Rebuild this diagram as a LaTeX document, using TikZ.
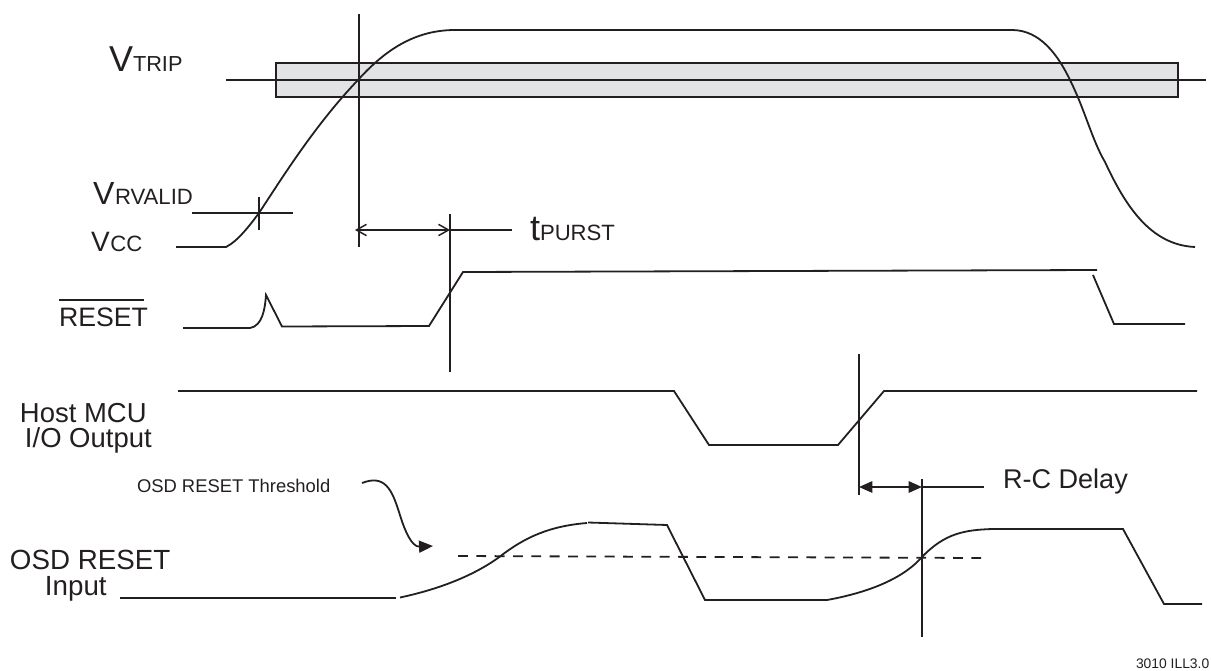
\documentclass[tikz,border=0pt]{standalone}
\usepackage{fontspec}
\setmainfont{Liberation Sans}
\usetikzlibrary{arrows.meta}
\definecolor{ink}{RGB}{35,31,32}
\definecolor{band}{RGB}{225,227,228}
\newcommand{\fs}[1]{\fontsize{#1}{#1}\selectfont}
\tikzset{
  wave/.style={draw=ink,line width=1.35pt},
  lab/.style={inner sep=0pt,outer sep=0pt,text=ink,anchor=base west},
  openarrow/.style={{Straight Barb[length=7.5pt,width=8.5pt,line width=1.1pt]}-{Straight Barb[length=7.5pt,width=8.5pt,line width=1.1pt]}},
  fillarrow/.style={{Triangle[length=10pt,width=8.5pt,fill=ink]}-{Triangle[length=10pt,width=8.5pt,fill=ink]}}
}
\begin{document}
\begin{tikzpicture}[x=0.75pt,y=-0.75pt]
\useasboundingbox (0,0) rectangle (1211,671);
% band
\draw[fill=band,draw=ink,line width=1.35pt] (276,63) rectangle (1178,97);
% trip line
\coordinate (tl) at (226,80); \coordinate (tr) at (1206,80);
\draw[wave] (tl) -- (tr);
% Vcc curve
\draw[wave] (176,247) -- (226,247)
  .. controls (238,241) and (250,225) .. (259,213)
  .. controls (282,178) and (315,125) .. (358,80)
  .. controls (385,50) and (415,30) .. (455,30)
  -- (1012,30)
  .. controls (1040,30) and (1058,55) .. (1070,80)
  .. controls (1085,110) and (1092,140) .. (1105,162)
  .. controls (1125,205) and (1150,245) .. (1195,247);
% verticals
\coordinate (v1t) at (359,14); \coordinate (v1b) at (359,247);
\draw[wave] (v1t) -- (v1b);
\coordinate (v2t) at (450,214); \coordinate (v2b) at (450,372);
\draw[wave] (v2t) -- (v2b);
\coordinate (v3t) at (859,354); \coordinate (v3b) at (859,495);
\draw[wave] (v3t) -- (v3b);
\coordinate (v4t) at (922,479); \coordinate (v4b) at (922,637);
\draw[wave] (v4t) -- (v4b);
% rvalid cross
\draw[wave] (192,213) -- (293,213);
\draw[wave] (259,197) -- (259,230);
% tpurst arrow
\coordinate (a1) at (355,230); \coordinate (a2) at (450,230);
\draw[wave,openarrow] (a1) -- (a2);
\draw[wave] (a2) -- (512,230);
% reset
\draw[wave] (183,328) -- (250,328) .. controls (262,326) and (265,310) .. (266,295)
  -- (282,326.5) -- (429,326) -- (463,272) -- (1097,270);
\draw[wave] (1093,275) -- (1114,324) -- (1185,324);
% host mcu
\draw[wave] (178,391) -- (674,391) -- (709,445) -- (838,445) -- (884,391) -- (1197,391);
% rc arrow
\coordinate (b1) at (859,487); \coordinate (b2) at (922,487);
\draw[wave,fillarrow] (b1) -- (b2);
\draw[wave] (b2) -- (984,487);
% osd input
\draw[wave] (120,598) -- (396,598);
\draw[wave] (400,597.5) .. controls (440,589) and (475,575) .. (500,556.5)
  .. controls (525,537) and (550,526) .. (587,523);
\draw[wave] (588,522.5) -- (667,525) -- (705,600) -- (827,600)
  .. controls (860,594) and (900,582) .. (922,557)
  .. controls (945,533) and (965,530) .. (992,529)
  -- (1123,529) -- (1164,604) -- (1202,604);
% threshold
\draw[draw=ink,line width=1.35pt,dash pattern=on 7.4pt off 6.35pt] (458,556) -- (982,558);
% pointer
\coordinate (p1) at (362,483); \coordinate (p2) at (433,546);
\draw[draw=ink,line width=1.35pt,-{Triangle[length=10.5pt,width=9pt,fill=ink]}] (p1)
  .. controls (385,474) and (392,490) .. (399,512)
  .. controls (405,532) and (412,547) .. (p2);
% labels
\node[lab] (vtrip) at (109,71) {\fs{27}V\fs{16.3}TRIP};
\node[lab] (vrvalid) at (93,204) {\fs{24}V\kern0.5pt\fs{16.6}RVALID};
\node[lab] (vcc) at (91,251) {\fs{21}V\kern0.5pt\fs{16.6}CC};
\node[lab] (reset) at (59,326) {\fs{20}RESET};
\draw[draw=ink,line width=1pt] ([yshift=5.6pt]reset.north west) -- ([yshift=5.6pt,xshift=-3pt]reset.north east);
\node[lab] (tp) at (530,240) {\fs{27}t\fs{16.6}PURST};
\node[lab] (h1) at (20,422) {\fs{20.6}Host MCU};
\node[lab] (h2) at (25,447) {\fs{20.6}I/O Output};
\node[lab] (th) at (137,492) {\fs{13.8}OSD RESET Threshold};
\node[lab] (o1) at (10,569) {\fs{20.8}OSD RESET};
\node[lab] (o2) at (45,595) {\fs{20.8}Input};
\node[lab] (rc) at (1003,488) {\fs{20.3}R-C Delay};
\node[lab] (ill) at (1136,668) {\fs{10.4}3010 ILL3.0};
\end{tikzpicture}
\end{document}
